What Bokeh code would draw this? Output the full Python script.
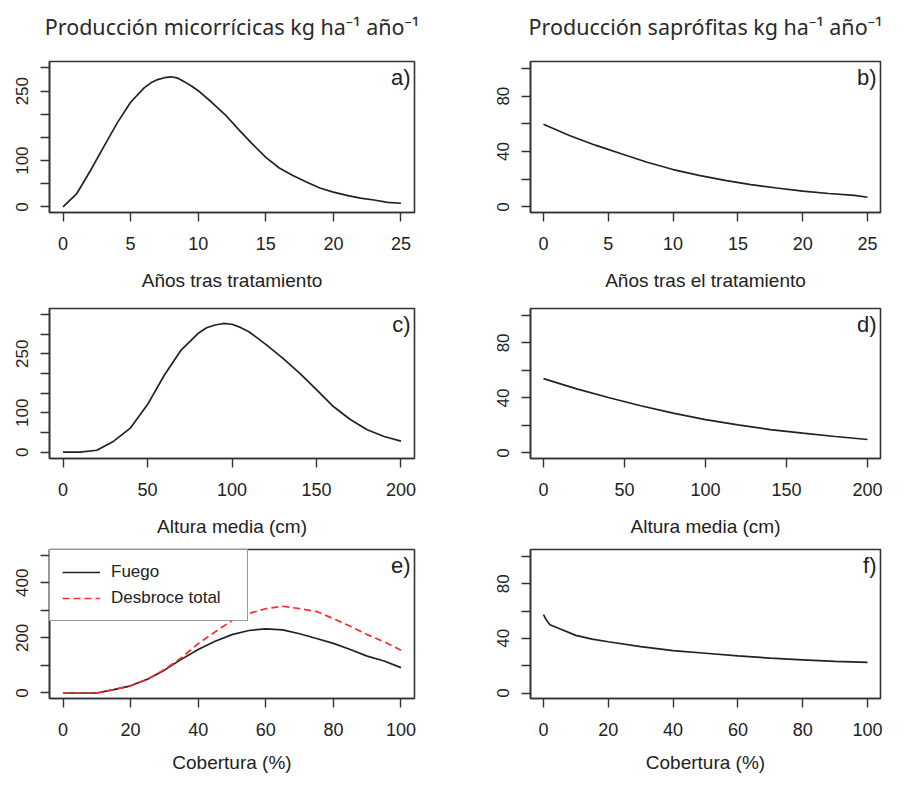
from bokeh.plotting import figure
from bokeh.layouts import column, row
from bokeh.models import FixedTicker, Label, Range1d, Title
from bokeh.embed import file_html
from bokeh.resources import INLINE

# ---------------- data ----------------
anos_a = [0, 1, 2, 3, 4, 5, 6, 6.5, 7, 7.5, 8, 8.5, 9, 9.5, 10, 11, 12, 13, 14,
          15, 16, 17, 18, 19, 20, 21, 22, 23, 24, 25]
mic_anos = [0, 28, 77, 129, 181, 226, 257, 268, 275, 279, 281, 278, 270, 261,
            251, 226, 199, 167, 136, 107, 84, 68, 54, 41, 32, 25, 19, 15, 10, 8]

anos_b = [0, 2, 4, 6, 8, 10, 12, 14, 16, 18, 20, 22, 24, 25]
sap_anos = [59.7, 51.6, 44.6, 38.4, 32.3, 27.0, 22.8, 19.2, 16.1, 13.7, 11.4,
            9.7, 8.3, 7.0]

altura_c = [0, 10, 20, 30, 40, 50, 60, 70, 80, 85, 90, 95, 100, 105, 110, 120,
            130, 140, 150, 160, 170, 180, 190, 200]
mic_altura = [0, 0, 5, 28, 62, 121, 196, 260, 302, 316, 323, 327, 325, 317,
              306, 274, 239, 201, 159, 116, 83, 57, 40, 28]

altura_d = list(range(0, 201, 20))
sap_altura = [54.0, 46.8, 40.3, 34.3, 29.0, 24.2, 20.4, 17.0, 14.4, 12.0, 9.8]

cob_e = list(range(0, 101, 5))
mic_fuego = [0, 0, 0, 12, 26, 50, 83, 122, 158, 188, 212, 227, 233, 229, 215,
             198, 180, 158, 134, 116, 92]
mic_desbroce = [0, 0, 0, 12, 27, 50, 85, 128, 179, 222, 263, 289, 306, 315,
                306, 296, 270, 242, 212, 186, 155]

cob_f = [0, 1, 2, 5, 10, 15, 20, 30, 40, 50, 60, 70, 80, 90, 100]
sap_cob = [57.3, 53.0, 50.0, 47.0, 42.2, 39.4, 37.5, 33.9, 31.0, 29.1, 27.2,
           25.5, 24.3, 23.1, 22.4]

titulo_mic = "Producción micorrícicas kg ha\u207b\u00b9 año\u207b\u00b9"
titulo_sap = "Producción saprófitas kg ha\u207b\u00b9 año\u207b\u00b9"

INK = "#222222"
BOX = "#333333"
AXFONT = "Liberation Sans"


def panel(xr, yr, xticks, yticks, yshown, xlabel, tag, width, height,
          bl, br, bt, bb, s2, title=None, toff=0):
    p = figure(width=width, height=height, output_backend="svg",
               toolbar_location=None, title=None, x_range=Range1d(*xr),
               y_range=Range1d(*yr), min_border_left=bl, min_border_right=br,
               min_border_top=bt, min_border_bottom=bb,
               background_fill_color="white", border_fill_color="white")
    p.grid.visible = False
    p.outline_line_color = BOX
    p.outline_line_width = 1.6
    for ax in (p.xaxis[0], p.yaxis[0]):
        ax.axis_line_color = BOX
        ax.axis_line_width = 1.6
        ax.major_tick_line_color = BOX
        ax.major_tick_line_width = 1.4
        ax.major_tick_out = 9
        ax.major_tick_in = 0
        ax.minor_tick_line_color = None
        ax.major_label_text_font = AXFONT
        ax.major_label_text_color = INK
    p.xaxis.ticker = FixedTicker(ticks=xticks)
    p.xaxis.major_label_text_font_size = "18px"
    p.xaxis.major_label_standoff = 15
    p.xaxis.axis_label = xlabel
    p.xaxis.axis_label_text_font = AXFONT
    p.xaxis.axis_label_text_font_size = "19px"
    p.xaxis.axis_label_text_font_style = "normal"
    p.xaxis.axis_label_text_color = INK
    p.xaxis.axis_label_standoff = s2
    p.yaxis.ticker = FixedTicker(ticks=yticks)
    p.yaxis.major_label_orientation = "vertical"
    p.yaxis.major_label_text_font_size = "17px"
    p.yaxis.major_label_standoff = 12
    p.yaxis.major_label_overrides = {t: (str(t) if t in yshown else "")
                                     for t in yticks}
    p.add_layout(Label(x=xr[1], y=yr[1], text=tag, text_align="right",
                       text_baseline="top", x_offset=-4, y_offset=-3,
                       text_font=AXFONT, text_font_size="22px",
                       text_color=INK))
    if title:
        # spacer between frame and title, then the title itself
        p.add_layout(Title(text=" ", text_font_size="8px", standoff=10),
                     "above")
        p.add_layout(Title(text=title, align="center", offset=toff,
                           text_font="Noto Sans", text_font_size="21.5px",
                           text_font_style="normal", text_color="#2a2a2a",
                           standoff=0), "above")
    return p


LW, RW = 452, 444
LB, LR = 49, 38
RB, RR = 78, 16
H1, H2, H3 = 298, 243, 236

pa = panel((-1, 26), (-12, 314), [0, 5, 10, 15, 20, 25],
           [0, 50, 100, 150, 200, 250, 300], [0, 100, 250],
           "Años tras tratamiento", "a)", LW, H1, LB, LR, 61, 86, 17,
           titulo_mic, 8)
pa.line(anos_a, mic_anos, line_color=INK, line_width=1.7)

pb = panel((-1, 26), (-4, 105), [0, 5, 10, 15, 20, 25],
           [0, 20, 40, 60, 80, 100], [0, 40, 80],
           "Años tras el tratamiento", "b)", RW, H1, RB, RR, 61, 86, 17,
           titulo_sap, 14)
pb.line(anos_b, sap_anos, line_color=INK, line_width=1.7)

pc = panel((-8, 208), (-16, 365), [0, 50, 100, 150, 200],
           [0, 50, 100, 150, 200, 250, 300, 350], [0, 100, 250],
           "Altura media (cm)", "c)", LW, H2, LB, LR, 10, 83, 17)
pc.line(altura_c, mic_altura, line_color=INK, line_width=1.7)

pd_ = panel((-8, 208), (-4, 105), [0, 50, 100, 150, 200],
            [0, 20, 40, 60, 80, 100], [0, 40, 80],
            "Altura media (cm)", "d)", RW, H2, RB, RR, 10, 83, 17)
pd_.line(altura_d, sap_altura, line_color=INK, line_width=1.7)

pe = panel((-4, 104), (-20, 521), [0, 20, 40, 60, 80, 100],
           [0, 100, 200, 300, 400, 500], [0, 200, 400],
           "Cobertura (%)", "e)", LW, H3, LB, LR, 8, 79, 13)
pe.line(cob_e, mic_fuego, line_color=INK, line_width=1.7, legend_label="Fuego")
pe.line(cob_e, mic_desbroce, line_color="#ff2a2a", line_width=1.7,
        line_dash="7 4", legend_label="Desbroce total")
lg = pe.legend[0]
lg.location = "top_left"
lg.margin = 0
lg.padding = 12
lg.spacing = 6
lg.label_height = 20
lg.glyph_height = 20
lg.glyph_width = 38
lg.label_standoff = 11
lg.label_width = 124
lg.label_text_font = AXFONT
lg.label_text_font_size = "17px"
lg.label_text_color = INK
lg.border_line_color = BOX
lg.border_line_width = 1.6
lg.background_fill_color = "white"
lg.background_fill_alpha = 1.0

pf = panel((-4, 104), (-4, 105), [0, 20, 40, 60, 80, 100],
           [0, 20, 40, 60, 80, 100], [0, 40, 80],
           "Cobertura (%)", "f)", RW, H3, RB, RR, 8, 79, 13)
pf.line(cob_f, sap_cob, line_color=INK, line_width=1.7)

layout = column(row(pa, pb), row(pc, pd_), row(pe, pf))

open("out.html", "w").write(file_html(layout, INLINE))
